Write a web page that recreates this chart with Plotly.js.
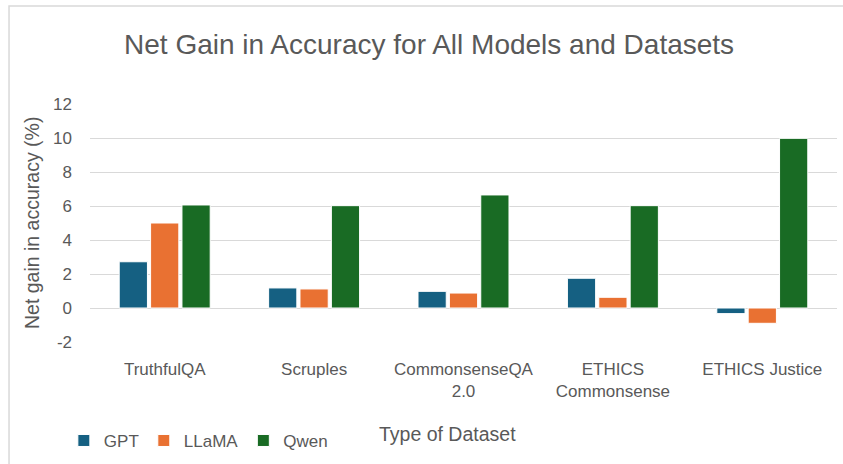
<!DOCTYPE html>
<html>
<head>
<meta charset="utf-8">
<script src="https://cdn.plot.ly/plotly-3.0.1.min.js"></script>
<style>html,body{margin:0;padding:0;background:#fff;}#chart{width:843px;height:464px;}</style>
</head>
<body>
<div id="chart"></div>
<script>
const categories = ["TruthfulQA", "Scruples", "CommonsenseQA<br>2.0", "ETHICS<br>Commonsense", "ETHICS Justice"];
const gptValues   = [2.72, 1.18, 0.98, 1.75, -0.33];
const llamaValues = [5.0, 1.12, 0.88, 0.63, -0.9];
const qwenValues  = [6.06, 6.02, 6.65, 6.02, 9.98];
const yTicks = [-2, 0, 2, 4, 6, 8, 10, 12];

const textColor = "#595959";
const fontFam = "'Liberation Sans', Arial, sans-serif";

function barTrace(name, values, color) {
  return {
    type: "bar", name: name, x: categories, y: values,
    marker: { color: color, line: { color: "#ffffff", width: 1 } },
    hoverinfo: "skip"
  };
}

const data = [
  barTrace("GPT", gptValues, "#156082"),
  barTrace("LLaMA", llamaValues, "#E97132"),
  barTrace("Qwen", qwenValues, "#196B24")
];

const layout = {
  width: 843, height: 464,
  margin: { l: 90, r: 6, t: 104, b: 122, autoexpand: false },
  paper_bgcolor: "#ffffff", plot_bgcolor: "#ffffff",
  font: { family: fontFam, color: textColor, size: 16 },
  barmode: "group", bargap: 0.37, bargroupgap: 0.1,
  title: {
    text: "Net Gain in Accuracy for All Models and Datasets",
    font: { family: "'Liberation Sans Narrow', 'Liberation Sans', Arial, sans-serif", size: 28, color: textColor },
    xref: "container", yref: "container", x: 0.509, y: 0.905, xanchor: "center", yanchor: "middle"
  },
  xaxis: {
    type: "category", showgrid: false, showline: false, ticks: "",
    tickfont: { size: 17, color: textColor }, ticklabelstandoff: 15
  },
  yaxis: {
    range: [-2, 12], tickvals: yTicks, ticktext: yTicks.map(String),
    showgrid: true, gridcolor: "#d9d9d9", gridwidth: 1,
    zeroline: true, zerolinecolor: "#d9d9d9", zerolinewidth: 1,
    showline: false, ticks: "", tickfont: { size: 17, color: textColor }, ticklabelstandoff: 17
  },
  showlegend: true,
  legend: {
    orientation: "h", x: -0.035, y: -0.34, xanchor: "left", yanchor: "top",
    font: { size: 17, color: textColor }, itemwidth: 30, tracegroupgap: 0,
    bgcolor: "rgba(0,0,0,0)"
  },
  annotations: [
    { text: "Type of Dataset", xref: "paper", yref: "paper", x: 0.478, y: -0.387,
      xanchor: "center", yanchor: "middle", showarrow: false, font: { size: 19.5, color: textColor } },
    { text: "Net gain in accuracy (%)", xref: "paper", yref: "paper", x: -0.0776, y: 0.5,
      xanchor: "center", yanchor: "middle", textangle: -90, showarrow: false, font: { size: 19.5, color: textColor } }
  ],
  shapes: [
    { type: "rect", xref: "paper", yref: "paper", x0: -0.1084, x1: 1.012, y0: -0.54, y1: 1.4118,
      line: { color: "#d9d9d9", width: 1.5 }, fillcolor: "rgba(0,0,0,0)", layer: "below" }
  ]
};

Plotly.newPlot("chart", data, layout, { staticPlot: true, displayModeBar: false });
</script>
</body>
</html>
